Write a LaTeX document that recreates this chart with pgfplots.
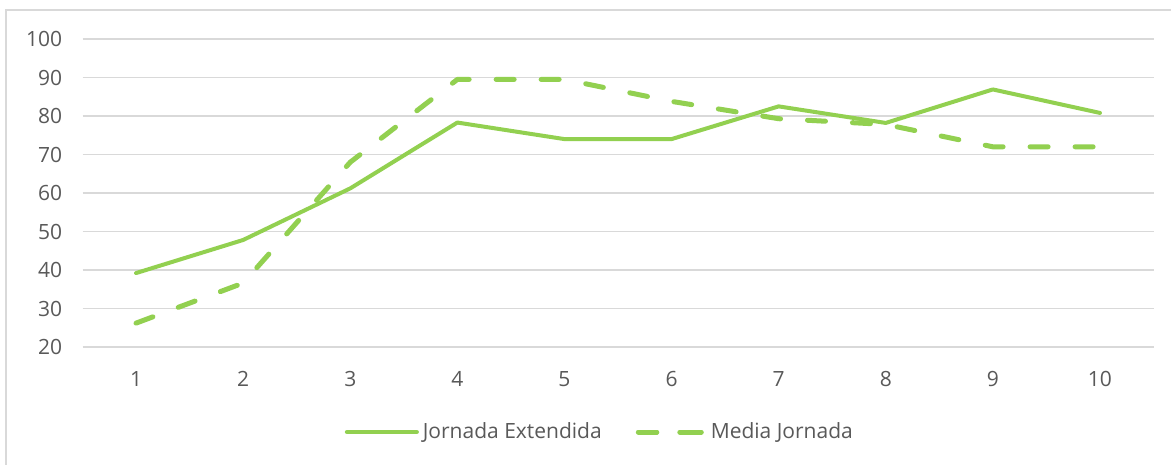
\documentclass[border=0pt]{standalone}
\usepackage{pgfplots}
\pgfplotsset{compat=1.18}
\usepackage{fontspec}
\setmainfont{Open Sans}
\definecolor{lgreen}{HTML}{92D050}
\definecolor{txtgray}{HTML}{595959}
\definecolor{gridgray}{HTML}{D9D9D9}
\begin{document}
\begin{tikzpicture}
\useasboundingbox (0,0) rectangle (585.5pt,232.5pt);
\fill[white] (0,0) rectangle (585.5pt,232.5pt);
% chart border (only top and left are inside the crop)
\draw[gridgray, line width=1pt] (3pt,0) -- (3pt,227.5pt) -- (585.5pt,227.5pt);
\begin{axis}[
    at={(41.25pt,59pt)}, anchor=south west,
    scale only axis,
    width=535.5pt, height=154pt,
    xmin=0.5, xmax=10.5,
    ymin=20, ymax=100,
    xtick={1,2,3,4,5,6,7,8,9,10},
    ytick={20,30,40,50,60,70,80,90,100},
    major tick length=0pt,
    axis line style={draw=none},
    ymajorgrids=true,
    grid style={gridgray, line width=0.7pt},
    /pgf/number format/assume math mode=true,
    tick label style={font=\fontsize{10.5}{12}\selectfont, text=txtgray, inner sep=0pt},
    yticklabel style={anchor=east, xshift=-10pt},
    xticklabel style={anchor=north, yshift=-12pt},
    legend style={at={(0.484,-0.276)}, anchor=center, draw=none, fill=none,
        legend columns=2, font=\fontsize{10.5}{12}\selectfont, text=txtgray,
        /tikz/every even column/.append style={column sep=15pt}},
    legend cell align=left,
    clip=false,
]
\addplot[lgreen, line width=2pt, line cap=round, line join=round,
    legend image code/.code={
        \draw[lgreen, line width=2pt, line cap=round] (1pt,0pt) -- (33pt,0pt);
        \path (0pt,0pt) -- (35pt,0pt);}]
coordinates {
(1,39.2)(2,47.8)(3,61.2)(4,78.3)(5,74)(6,74)(7,82.5)(8,78.2)(9,86.9)(10,80.8)
};
\addlegendentry{Jornada Extendida}
\addplot[lgreen, line width=2.5pt, line cap=round, line join=round,
    dash pattern=on 9pt off 13.5pt,
    legend image code/.code={
        \draw[lgreen, line width=2.5pt, line cap=round] (1.25pt,0pt) -- (9.25pt,0pt);
        \draw[lgreen, line width=2.5pt, line cap=round] (20.75pt,0pt) -- (28.75pt,0pt);
        \path (0pt,0pt) -- (33pt,0pt);}]
coordinates {
(1,26.2)(2,36.6)(3,68)(4,89.5)(5,89.5)(6,83.8)(7,79.3)(8,77.8)(9,72)(10,72)
};
\addlegendentry{Media Jornada}
\end{axis}
\end{tikzpicture}
\end{document}
